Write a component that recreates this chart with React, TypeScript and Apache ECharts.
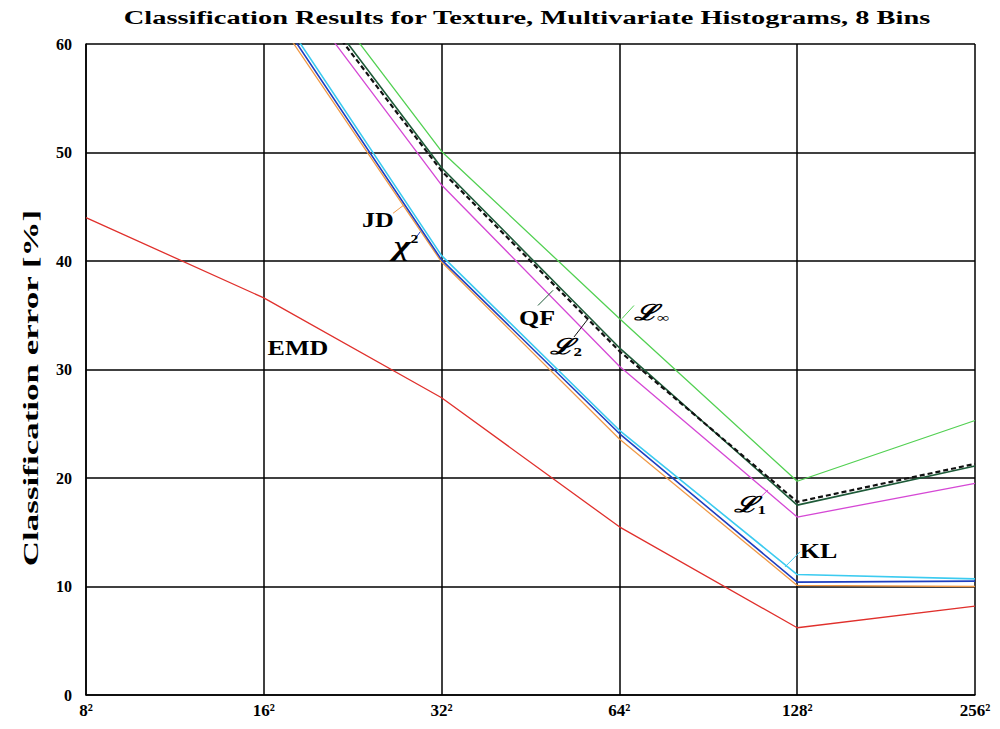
import React, { useEffect, useRef } from "react";
import * as echarts from "echarts";

const sizes = [8, 16, 32, 64, 128, 256];
const xTickLabels = ["8²", "16²", "32²", "64²", "128²", "256²"];
const yTicks = [0, 10, 20, 30, 40, 50, 60];

const emd = [44.0, 36.6, 27.4, 15.5, 6.2, 8.2];
const jd = [null, 64.1, 39.9, 23.6, 10.1, 10.0];
const chi2 = [null, 64.6, 40.1, 24.1, 10.4, 10.5];
const kl = [null, 65.1, 40.5, 24.4, 11.1, 10.7];
const l1 = [null, 68.8, 47.0, 30.3, 16.4, 19.5];
const qf = [null, 70.3, 48.6, 32.0, 17.5, 21.1];
const l2 = [null, 69.7, 48.3, 31.7, 17.8, 21.3];
const linf = [null, 71.7, 50.1, 34.7, 19.7, 25.3];

const seriesDefs = [
  { name: "EMD", values: emd, color: "#e0302c", width: 1.3, type: "solid" },
  { name: "JD", values: jd, color: "#f09a48", width: 1.3, type: "solid" },
  { name: "KL", values: kl, color: "#3ccbf0", width: 1.6, type: "solid" },
  { name: "χ²", values: chi2, color: "#1f3fbf", width: 1.6, type: "solid" },
  { name: "L1", values: l1, color: "#d548d5", width: 1.3, type: "solid" },
  { name: "L∞", values: linf, color: "#52d052", width: 1.3, type: "solid" },
  { name: "QF", values: qf, color: "#1d5a38", width: 1.6, type: "solid" },
  { name: "L2", values: l2, color: "#111111", width: 2.2, type: [5, 3] },
];

const titleText = "Classification Results for Texture, Multivariate Histograms, 8 Bins";
const yAxisTitle = "Classification error [%]";

// annotation anchors in data units: [log2(size), value]
const labelTexts = ["JD", "χ", "QF", "L2", "Linf", "L1", "KL", "EMD"];
const labelPos = [
  [4.642, 43.8],
  [4.80, 41.4],
  [5.537, 34.7],
  [5.70, 32.1],
  [6.18, 35.2],
  [6.735, 17.5],
  [7.12, 13.3],
  [4.192, 32.0],
];
const leaderFrom = [
  [4.727, 44.4],
  [4.845, 41.9],
  [5.542, 35.9],
  [5.745, 33.0],
  [6.015, 34.7],
  [6.791, 18.2],
  [6.931, 11.8],
];
const leaderTo = [
  [4.783, 45.1],
  [4.88, 42.7],
  [5.627, 37.3],
  [5.823, 34.65],
  [6.082, 35.9],
  [6.836, 18.9],
  [7.016, 13.2],
];
const leaderColors = ["#f09a48", "#1f3fbf", "#1d5a38", "#111111", "#52d052", "#d548d5", "#3ccbf0"];

const FONT = "'Liberation Serif', 'DejaVu Serif', serif";

export default function App() {
  const ref = useRef<HTMLDivElement>(null);

  useEffect(() => {
    if (!ref.current) return;
    const chart = echarts.init(ref.current, null, { renderer: "svg" });
    const option: any = {
      animation: false,
      backgroundColor: "#ffffff",
      grid: { left: 86, right: 25, top: 44, bottom: 34, containLabel: false },
      xAxis: {
        type: "log",
        logBase: 2,
        min: 8,
        max: 256,
        axisLine: { show: true, lineStyle: { color: "#000", width: 1.5 } },
        axisTick: { show: false },
        splitLine: { show: true, lineStyle: { color: "#000", width: 1.5 } },
        axisLabel: {
          margin: 7,
          fontFamily: FONT,
          fontWeight: "bold",
          fontSize: 17,
          color: "#000",
          formatter: (v: number) => {
            const i = sizes.indexOf(Math.round(v));
            return i >= 0 ? xTickLabels[i] : "";
          },
        },
      },
      yAxis: {
        type: "value",
        min: 0,
        max: 60,
        interval: 10,
        axisLine: { show: true, lineStyle: { color: "#000", width: 1.5 } },
        axisTick: { show: false },
        splitLine: { show: true, lineStyle: { color: "#000", width: 1.5 } },
        axisLabel: {
          margin: 14,
          fontFamily: FONT,
          fontWeight: "bold",
          fontSize: 16,
          color: "#000",
          formatter: (v: number) => (yTicks.indexOf(v) >= 0 ? String(v) : ""),
        },
      },
      series: seriesDefs.map((s) => ({
        name: s.name,
        type: "line",
        showSymbol: false,
        symbol: "none",
        clip: true,
        lineStyle: { color: s.color, width: s.width, type: s.type },
        data: sizes
          .map((x, i) => [x, s.values[i]])
          .filter((p) => p[1] !== null),
        z: 3,
      })),
    };
    chart.setOption(option);

    const px = (p: number[]) =>
      chart.convertToPixel({ xAxisIndex: 0, yAxisIndex: 0 }, [Math.pow(2, p[0]), p[1]]) as number[];

    const labelStyleBase = {
      fontFamily: FONT,
      fontWeight: "bold",
      fontSize: 20,
      fill: "#000",
      align: "center",
      verticalAlign: "middle",
    };

    const richFor = (t: string) => {
      if (t === "χ") return "{c|χ}{sup|2}";
      if (t === "L1") return "{m|ℒ}{sub|1}";
      if (t === "L2") return "{m|ℒ}{sub|2}";
      if (t === "Linf") return "{m|ℒ}{sub|∞}";
      return t;
    };

    const rich = {
      m: { fontFamily: FONT, fontWeight: "bold", fontStyle: "italic", fontSize: 22, fill: "#000" },
      c: { fontFamily: FONT, fontWeight: "bold", fontStyle: "italic", fontSize: 28, fill: "#000" },
      sub: { fontFamily: FONT, fontWeight: "bold", fontSize: 13, fill: "#000", padding: [10, 0, 0, 0] },
      sup: { fontFamily: FONT, fontWeight: "bold", fontSize: 12, fill: "#000", padding: [0, 0, 14, 0] },
    };

    const graphics: any[] = [];
    graphics.push({
      type: "text",
      x: 527,
      y: 18,
      scaleX: 1.58,
      style: {
        text: titleText,
        fontFamily: FONT,
        fontWeight: "bold",
        fontSize: 18,
        fill: "#000",
        align: "center",
        verticalAlign: "middle",
      },
    });
    graphics.push({
      type: "text",
      x: 31,
      y: 388,
      rotation: Math.PI / 2,
      scaleX: 1.75,
      style: {
        text: yAxisTitle,
        fontFamily: FONT,
        fontWeight: "bold",
        fontSize: 20,
        fill: "#000",
        align: "center",
        verticalAlign: "middle",
      },
    });
    leaderFrom.forEach((a, i) => {
      const p1 = px(a);
      const p2 = px(leaderTo[i]);
      graphics.push({
        type: "line",
        shape: { x1: p1[0], y1: p1[1], x2: p2[0], y2: p2[1] },
        style: { stroke: leaderColors[i], lineWidth: 1 },
        z: 10,
      });
    });
    labelTexts.forEach((t, i) => {
      const p = px(labelPos[i]);
      graphics.push({
        type: "text",
        x: p[0],
        y: p[1],
        scaleX: 1.3,
        style: { ...labelStyleBase, text: richFor(t), rich },
        z: 11,
      });
    });
    chart.setOption({ graphic: graphics });

    return () => chart.dispose();
  }, []);

  return (
    <div
      ref={ref}
      style={{ position: "fixed", left: 0, top: 0, width: 1000, height: 729 }}
    />
  );
}
